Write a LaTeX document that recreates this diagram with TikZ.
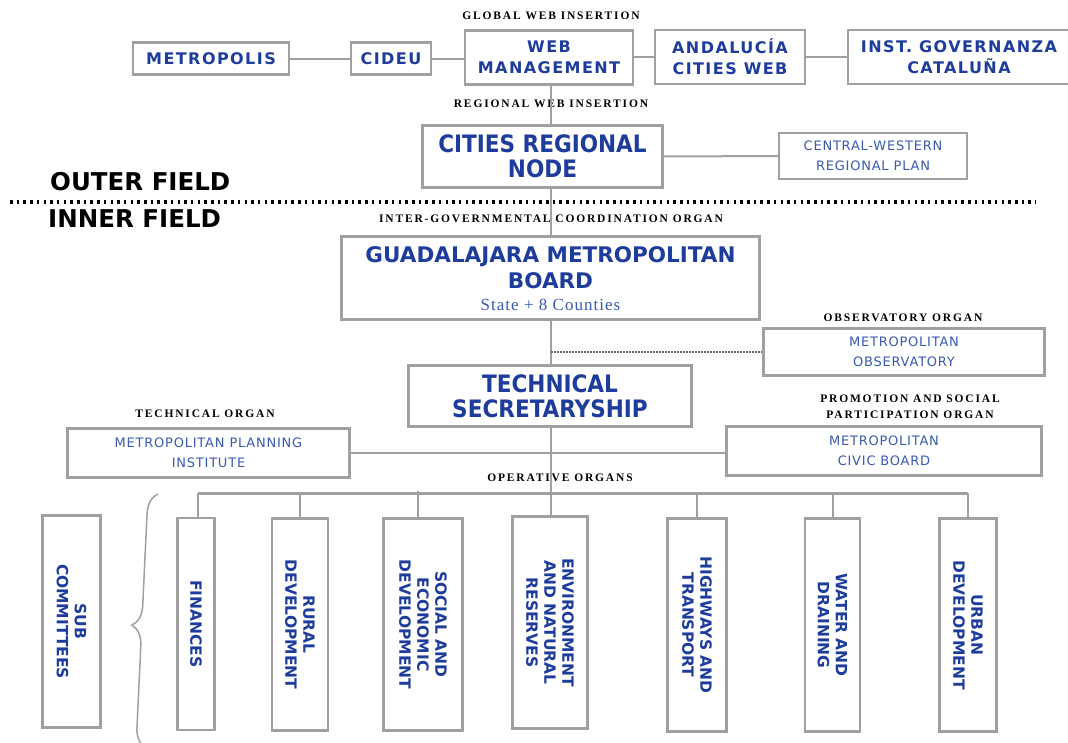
\documentclass[tikz,border=0pt]{standalone}
\usepackage{fontspec}
\setmainfont{DejaVu Sans}
\newfontfamily\condfont{DejaVu Sans Condensed}
\newfontfamily\boxfont{DejaVu Sans}[LetterSpace=9]
\newfontfamily\smallfont{DejaVu Sans}[LetterSpace=6]
\newfontfamily\serffont{Liberation Serif}[LetterSpace=6]
\newfontfamily\lblfont{Liberation Serif}[LetterSpace=16]
\usetikzlibrary{decorations.pathreplacing}
\definecolor{dblue}{HTML}{1E3C9C}
\definecolor{lblue}{HTML}{3A5AB0}
\definecolor{bgray}{HTML}{A0A0A0}
\tikzset{
  box/.style={draw=bgray, line width=2.2pt, fill=white, inner sep=1pt, align=center},
  bigtext/.style={text=dblue, font=\condfont\bfseries\fontsize{24}{25}\selectfont},
  midtext/.style={text=dblue, font=\boxfont\bfseries\fontsize{16}{21}\selectfont},
  smalltext/.style={text=lblue, font=\smallfont\fontsize{13}{20}\selectfont},
  vtext/.style={text=dblue, font=\bfseries\fontsize{15.5}{18}\selectfont},
  lbl/.style={font=\lblfont\bfseries\fontsize{11.5}{16}\selectfont, align=center, inner sep=0pt},
  field/.style={font=\bfseries\fontsize{24.5}{26}\selectfont, inner sep=0pt, anchor=west},
  conn/.style={draw=bgray, line width=2pt},
  bus/.style={draw=bgray, line width=3pt},
}
\begin{document}
\begin{tikzpicture}[x=1pt,y=-1pt]
\useasboundingbox (0,0) rectangle (1068,742);
% top row
\node[box, midtext, minimum width=156pt, minimum height=32pt] (metro) at (211,58.5) {METROPOLIS};
\node[box, midtext, minimum width=80pt, minimum height=32pt] (cideu) at (391,58.5) {CIDEU};
\node[box, midtext, minimum width=168pt, minimum height=54pt] (web) at (549,57.5) {WEB\\MANAGEMENT};
\node[box, midtext, minimum width=150pt, minimum height=54pt] (anda) at (730,57) {ANDALUCÍA\\CITIES WEB};
\node[box, midtext, minimum width=222pt, minimum height=54pt] (inst) at (959,57) {INST. GOVERNANZA\\CATALUÑA};
\node[lbl] (lglobal) at (551,16) {GLOBAL WEB INSERTION};
\node[lbl] (lregional) at (551,104) {REGIONAL WEB INSERTION};
% cities regional node
\node[box, bigtext, minimum width=240pt, minimum height=62pt] (cities) at (542.5,156.5) {CITIES REGIONAL\\NODE};
\node[box, smalltext, minimum width=188pt, minimum height=46pt] (cw) at (873,156) {CENTRAL-WESTERN\\REGIONAL PLAN};
% fields
\node[field] (outer) at (50,182) {OUTER FIELD};
\node[field] (inner) at (48,219) {INNER FIELD};
\coordinate (dl) at (10,202);
\coordinate (dr) at (1036,202);
% guadalajara
\node[lbl] (linter) at (551,219) {INTER-GOVERNMENTAL COORDINATION ORGAN};
\node[box, minimum width=418pt, minimum height=83pt] (guad) at (550.5,278) {};
\node[text=dblue, font=\bfseries\fontsize{21.5}{26}\selectfont, align=center, inner sep=0pt] (guadt) at (550.5,268) {GUADALAJARA METROPOLITAN\\BOARD};
\node[text=lblue, font=\serffont\fontsize{17}{19}\selectfont, inner sep=0pt] (guads) at (550.5,305) {State + 8 Counties};
% observatory
\node[lbl] (lobs) at (903,318) {OBSERVATORY ORGAN};
\node[box, smalltext, minimum width=281pt, minimum height=47pt] (obs) at (904,352) {METROPOLITAN\\OBSERVATORY};
% technical secretaryship
\node[box, bigtext, minimum width=283pt, minimum height=61pt] (tech) at (550,396) {TECHNICAL\\SECRETARYSHIP};
% planning institute
\node[lbl] (ltech) at (205,414) {TECHNICAL ORGAN};
\node[box, smalltext, minimum width=282pt, minimum height=49pt] (mpi) at (208.5,453) {METROPOLITAN PLANNING\\INSTITUTE};
% civic board
\node[lbl] (lprom) at (910,407) {PROMOTION AND SOCIAL\\PARTICIPATION ORGAN};
\node[box, smalltext, minimum width=315pt, minimum height=49pt] (civic) at (884,451) {METROPOLITAN\\CIVIC BOARD};
% operative
\node[lbl] (lop) at (560,478) {OPERATIVE ORGANS};
\coordinate (busl) at (198,493);
\coordinate (busr) at (968,493);
\coordinate (busm) at (551,493);
% vertical boxes
\node[box, vtext, minimum height=58pt, minimum width=212pt, rotate=-90] (sub) at (71.5,621.5) {SUB\\COMMITTEES};
\node[box, vtext, minimum height=37pt, minimum width=212pt, rotate=-90] (fin) at (196,624) {FINANCES};
\node[box, vtext, minimum height=56pt, minimum width=212pt, rotate=-90] (rural) at (300,624.5) {RURAL\\DEVELOPMENT};
\node[box, vtext, minimum height=79pt, minimum width=212pt, rotate=-90] (social) at (423,624.5) {SOCIAL AND\\ECONOMIC\\DEVELOPMENT};
\node[box, vtext, minimum height=75pt, minimum width=212pt, rotate=-90] (env) at (550,622.5) {ENVIRONMENT\\AND NATURAL\\RESERVES};
\node[box, vtext, minimum height=59pt, minimum width=213pt, rotate=-90] (high) at (697,625) {HIGHWAYS AND\\TRANSPORT};
\node[box, vtext, minimum height=55pt, minimum width=213pt, rotate=-90] (water) at (832.5,625) {WATER AND\\DRAINING};
\node[box, vtext, minimum height=57pt, minimum width=213pt, rotate=-90] (urban) at (968,625) {URBAN\\DEVELOPMENT};
\coordinate (bt) at (158,494);
\coordinate (bb) at (146,748);
% connectors
\draw[conn] (metro.east) -- (cideu.west);
\draw[conn] (cideu.east) -- (web.west |- cideu.east);
\draw[conn] (web.east |- anda.west) -- (anda.west);
\draw[conn] (anda.east) -- (inst.west);
\coordinate (wsx) at (551,0);
\draw[conn] (wsx |- web.south) -- (wsx |- cities.north);
\draw[conn] (cities.east) -- (cw.west);
\draw[conn] (wsx |- cities.south) -- (wsx |- guad.north);
\draw[conn] (wsx |- guad.south) -- (wsx |- tech.north);
\draw[black!60, line width=1.5pt, dash pattern=on 1.5pt off 1.5pt] (wsx |- obs.west) -- (obs.west);
\draw[conn] (wsx |- tech.south) -- (busm);
\draw[conn] (mpi.east) -- (civic.west |- mpi.east);
\draw[bus] (busl) -- (busr);
\draw[conn] (fin.west -| busl) -- (busl);
\draw[conn] (rural.west) -- (rural.west |- busl);
\draw[conn] (social.west) ++(-5,0) -- ++(0,-26);
\draw[conn] (busm) -- (busm |- env.west);
\draw[conn] (high.west) -- (high.west |- busl);
\draw[conn] (water.west) -- (water.west |- busl);
\draw[conn] (urban.west) -- (busr);
\draw[line width=4.5pt, dash pattern=on 2.5pt off 4.2pt] (dl) -- (dr);
\draw[bgray, line width=1.5pt, decorate, decoration={brace, amplitude=20pt, mirror, aspect=0.52}] (bt) -- (bb);
\end{tikzpicture}
\end{document}
